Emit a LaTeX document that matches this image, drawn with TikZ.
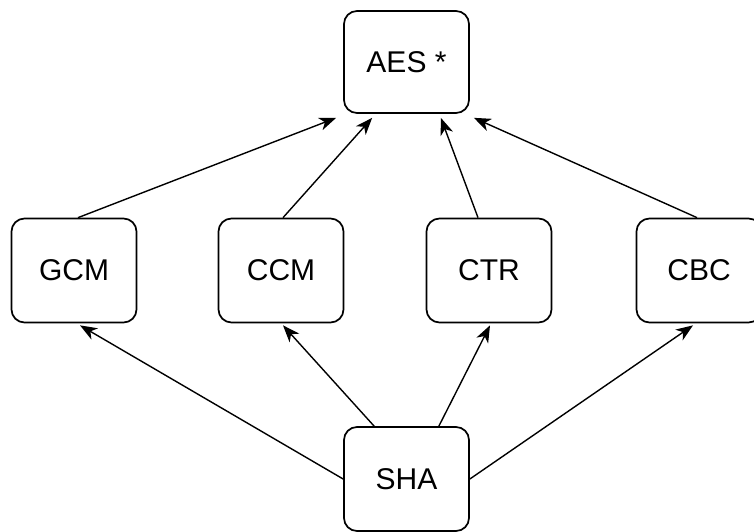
\documentclass[tikz,border=0pt]{standalone}
\usepackage{fontspec}
\setmainfont{Liberation Sans}
\usetikzlibrary{arrows.meta,calc}
\begin{document}
\begin{tikzpicture}[x=1pt,y=-1pt,
  box/.style={draw, line width=1.7pt, rounded corners=13pt,
    minimum width=125pt, minimum height=104pt, inner sep=0pt,
    font=\fontsize{30}{36}\selectfont},
  link/.style={line width=1.4pt,
    -{Stealth[length=17pt,width=13pt,inset=5pt]}}]
\useasboundingbox (0,0) rectangle (754,532);
\fill[white] (0,0) rectangle (754,532);
\clip (0,0) rectangle (754,532);

% top: cipher
\node[box, minimum height=102pt] (aes) at (406.5,62) {AES *};
% middle: modes
\node[box] (gcm) at (74,270.5)  {GCM};
\node[box] (ccm) at (281,270.5) {CCM};
\node[box] (ctr) at (489,270.5) {CTR};
\node[box] (cbc) at (699,270.5) {CBC};
% bottom: hash
\node[box] (sha) at (406.5,479) {SHA};

% modes -> AES
\draw[link] ($(gcm.north)+(4,0)$)  -- ($(aes.south west)+(-7,4)$);
\draw[link] ($(ccm.north)+(2,0)$)  -- ($(aes.south west)+(29,4)$);
\draw[link] ($(ctr.north)+(-11,0)$) -- ($(aes.south east)+(-29,4)$);
\draw[link] ($(cbc.north)+(-2,0)$) -- ($(aes.south east)+(4,4)$);

% SHA -> modes
\draw[link] (sha.west) -- ($(gcm.south)+(6,2)$);
\draw[link] ($(sha.north west)+(31,0)$) -- ($(ccm.south)+(2,2)$);
\draw[link] ($(sha.north east)+(-31,0)$) -- ($(ctr.south)+(1,2)$);
\draw[link] (sha.east) -- ($(cbc.south)+(-6,2)$);
\end{tikzpicture}
\end{document}
